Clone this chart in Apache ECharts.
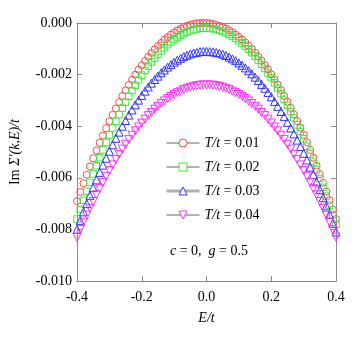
<!DOCTYPE html>
<html>
<head>
<meta charset="utf-8">
<script src="https://cdn.jsdelivr.net/npm/echarts@6/dist/echarts.min.js"></script>
<style>
  html, body { margin: 0; padding: 0; background: #fff; }
  #chart { width: 354px; height: 342px; }
</style>
</head>
<body>
<div id="chart"></div>
<script>
// energy grid E/t
const energies = [
  -0.40, -0.39, -0.38, -0.37, -0.36, -0.35, -0.34, -0.33, -0.32, -0.31,
  -0.30, -0.29, -0.28, -0.27, -0.26, -0.25, -0.24, -0.23, -0.22, -0.21,
  -0.20, -0.19, -0.18, -0.17, -0.16, -0.15, -0.14, -0.13, -0.12, -0.11,
  -0.10, -0.09, -0.08, -0.07, -0.06, -0.05, -0.04, -0.03, -0.02, -0.01,
  0.00, 0.01, 0.02, 0.03, 0.04, 0.05, 0.06, 0.07, 0.08, 0.09,
  0.10, 0.11, 0.12, 0.13, 0.14, 0.15, 0.16, 0.17, 0.18, 0.19,
  0.20, 0.21, 0.22, 0.23, 0.24, 0.25, 0.26, 0.27, 0.28, 0.29,
  0.30, 0.31, 0.32, 0.33, 0.34, 0.35, 0.36, 0.37, 0.38, 0.39, 0.40
];

// Im Sigma'(k,E)/t for each temperature
const imSigmaT001 = [
  -0.00690, -0.00655, -0.00621, -0.00588, -0.00556, -0.00524, -0.00494, -0.00464, -0.00436, -0.00408,
  -0.00381, -0.00356, -0.00331, -0.00307, -0.00283, -0.00261, -0.00240, -0.00220, -0.00200, -0.00181,
  -0.00164, -0.00147, -0.00131, -0.00116, -0.00102, -0.00089, -0.00077, -0.00065, -0.00055, -0.00045,
  -0.00037, -0.00029, -0.00022, -0.00016, -0.00011, -0.00007, -0.00004, -0.00001, 0.00000, 0.00000,
  0.00000, -0.00001, -0.00004, -0.00007, -0.00011, -0.00016, -0.00022, -0.00028, -0.00036, -0.00045,
  -0.00054, -0.00064, -0.00076, -0.00088, -0.00101, -0.00115, -0.00130, -0.00146, -0.00163, -0.00180,
  -0.00199, -0.00218, -0.00239, -0.00260, -0.00282, -0.00305, -0.00329, -0.00354, -0.00380, -0.00406,
  -0.00434, -0.00462, -0.00492, -0.00522, -0.00553, -0.00586, -0.00619, -0.00653, -0.00687, -0.00723, -0.00760
];
const imSigmaT002 = [
  -0.00760, -0.00723, -0.00687, -0.00652, -0.00618, -0.00585, -0.00553, -0.00522, -0.00492, -0.00463,
  -0.00434, -0.00407, -0.00381, -0.00355, -0.00330, -0.00307, -0.00284, -0.00262, -0.00241, -0.00221,
  -0.00202, -0.00184, -0.00167, -0.00151, -0.00136, -0.00122, -0.00108, -0.00096, -0.00084, -0.00074,
  -0.00064, -0.00056, -0.00048, -0.00041, -0.00035, -0.00030, -0.00026, -0.00023, -0.00021, -0.00020,
  -0.00020, -0.00021, -0.00022, -0.00025, -0.00029, -0.00033, -0.00038, -0.00045, -0.00052, -0.00060,
  -0.00069, -0.00079, -0.00091, -0.00102, -0.00115, -0.00129, -0.00144, -0.00160, -0.00176, -0.00194,
  -0.00212, -0.00232, -0.00252, -0.00274, -0.00296, -0.00319, -0.00343, -0.00368, -0.00395, -0.00421,
  -0.00449, -0.00478, -0.00508, -0.00539, -0.00570, -0.00603, -0.00637, -0.00671, -0.00706, -0.00743, -0.00780
];
const imSigmaT003 = [
  -0.00800, -0.00766, -0.00732, -0.00700, -0.00668, -0.00638, -0.00608, -0.00579, -0.00551, -0.00524,
  -0.00497, -0.00472, -0.00447, -0.00423, -0.00400, -0.00378, -0.00357, -0.00337, -0.00317, -0.00299,
  -0.00281, -0.00264, -0.00248, -0.00233, -0.00219, -0.00206, -0.00193, -0.00182, -0.00171, -0.00161,
  -0.00152, -0.00144, -0.00137, -0.00130, -0.00125, -0.00120, -0.00116, -0.00114, -0.00111, -0.00110,
  -0.00110, -0.00111, -0.00112, -0.00114, -0.00117, -0.00121, -0.00126, -0.00132, -0.00139, -0.00146,
  -0.00155, -0.00164, -0.00174, -0.00185, -0.00197, -0.00210, -0.00223, -0.00238, -0.00253, -0.00269,
  -0.00286, -0.00304, -0.00323, -0.00343, -0.00363, -0.00385, -0.00407, -0.00430, -0.00454, -0.00479,
  -0.00505, -0.00531, -0.00559, -0.00587, -0.00616, -0.00646, -0.00677, -0.00709, -0.00742, -0.00776, -0.00810
];
const imSigmaT004 = [
  -0.00830, -0.00801, -0.00772, -0.00745, -0.00718, -0.00692, -0.00666, -0.00642, -0.00618, -0.00594,
  -0.00572, -0.00550, -0.00529, -0.00509, -0.00489, -0.00470, -0.00452, -0.00435, -0.00418, -0.00403,
  -0.00388, -0.00373, -0.00359, -0.00347, -0.00334, -0.00323, -0.00312, -0.00302, -0.00293, -0.00285,
  -0.00277, -0.00270, -0.00264, -0.00258, -0.00253, -0.00249, -0.00246, -0.00243, -0.00241, -0.00240,
  -0.00240, -0.00240, -0.00241, -0.00243, -0.00246, -0.00249, -0.00253, -0.00258, -0.00264, -0.00270,
  -0.00277, -0.00285, -0.00293, -0.00302, -0.00312, -0.00323, -0.00334, -0.00347, -0.00359, -0.00373,
  -0.00388, -0.00403, -0.00418, -0.00435, -0.00452, -0.00470, -0.00489, -0.00509, -0.00529, -0.00550,
  -0.00572, -0.00594, -0.00618, -0.00642, -0.00666, -0.00692, -0.00718, -0.00745, -0.00772, -0.00801, -0.00830
];

const seriesNames = ["0.01", "0.02", "0.03", "0.04"];
const seriesValues = [imSigmaT001, imSigmaT002, imSigmaT003, imSigmaT004];
const yTicks = [-0.010, -0.008, -0.006, -0.004, -0.002, 0.000];
const xTicks = [-0.4, -0.2, 0.0, 0.2, 0.4];

const colors = ["#ff4a4a", "#3ee83e", "#3434ff", "#ff30ff"];
const symbols = ["circle", "rect", "triangle", "triangle"];
const symbolSizes = [7, 6.5, 8, 8];
const rotations = [0, 0, 0, 180];

const serif = "'Liberation Serif', 'DejaVu Serif', serif";
const axisGray = "#8a8a8a";

const chart = echarts.init(document.getElementById("chart"));

const baseX = {
  type: "value",
  min: xTicks[0],
  max: xTicks[xTicks.length - 1],
  interval: 0.2,
  axisLine: { onZero: false, lineStyle: { color: axisGray, width: 1 } },
  axisTick: { inside: true, length: 5, lineStyle: { color: axisGray } },
  splitLine: { show: false }
};
const baseY = {
  type: "value",
  min: yTicks[0],
  max: yTicks[yTicks.length - 1],
  interval: 0.002,
  axisLine: { onZero: false, lineStyle: { color: axisGray, width: 1 } },
  axisTick: { inside: true, length: 5, lineStyle: { color: axisGray } },
  splitLine: { show: false }
};

const option = {
  animation: false,
  backgroundColor: "#fff",
  grid: { left: 76, right: 18, top: 23, bottom: 61, containLabel: false },
  xAxis: [
    {
      ...baseX,
      position: "bottom",
      name: "E/t",
      nameLocation: "middle",
      nameGap: 30,
      nameTextStyle: { fontFamily: serif, fontSize: 14, fontStyle: "italic", color: "#000" },
      axisLabel: { fontFamily: serif, fontSize: 14, color: "#000", margin: 9,
        formatter: (v) => v.toFixed(1) }
    },
    { ...baseX, position: "top", axisLabel: { show: false } }
  ],
  yAxis: [
    {
      ...baseY,
      position: "left",
      name: "{n|Im }{i|Σ′(k,E)/t}",
      nameLocation: "middle",
      nameGap: 55,
      nameTextStyle: {
        color: "#000",
        rich: {
          n: { fontFamily: serif, fontSize: 14, color: "#000" },
          i: { fontFamily: serif, fontSize: 14, fontStyle: "italic", color: "#000" }
        }
      },
      axisLabel: { fontFamily: serif, fontSize: 14, color: "#000", margin: 5,
        formatter: (v) => v.toFixed(3) }
    },
    { ...baseY, position: "right", axisLabel: { show: false } }
  ],
  legend: {
    orient: "vertical",
    left: 160,
    top: 131,
    itemWidth: 33,
    itemHeight: 10,
    itemGap: 10,
    textStyle: {
      fontFamily: serif, fontSize: 14, color: "#000",
      rich: { i: { fontFamily: serif, fontSize: 14, fontStyle: "italic", color: "#000" } }
    },
    formatter: (name) => "{i|T/t} = " + name,
    data: seriesNames.map((n, i) => ({
      name: n,
      itemStyle: { color: "#fff", borderColor: colors[i], borderWidth: 1 },
      lineStyle: i === 2
        ? { color: "#b0b0b0", width: 3, opacity: 1 }
        : { color: "#666", width: 1, opacity: 1 }
    }))
  },
  graphic: [
    {
      type: "text",
      left: 170,
      top: 244,
      style: {
        text: "{i|c} = 0,  {i|g} = 0.5",
        fontFamily: serif,
        fontSize: 14,
        fill: "#000",
        rich: { i: { fontFamily: serif, fontSize: 14, fontStyle: "italic", fill: "#000", color: "#000" } }
      }
    }
  ],
  series: seriesNames.map((n, i) => ({
    name: n,
    type: "line",
    xAxisIndex: 0,
    yAxisIndex: 0,
    data: energies.map((e, k) => [e, seriesValues[i][k]]),
    symbol: symbols[i],
    symbolSize: symbolSizes[i],
    symbolRotate: rotations[i],
    showAllSymbol: true,
    lineStyle: { color: colors[i], width: 1, opacity: 0 },
    itemStyle: { color: "transparent", borderColor: colors[i], borderWidth: 1 },
    emphasis: { disabled: true }
  }))
};

chart.setOption(option);
</script>
</body>
</html>
